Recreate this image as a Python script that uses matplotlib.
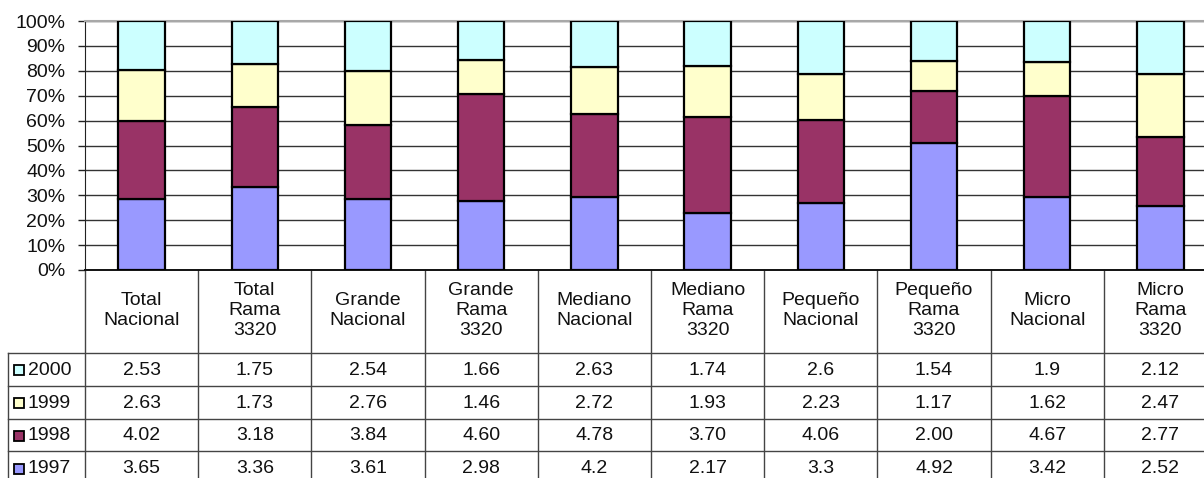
import numpy as np
import matplotlib
matplotlib.use('Agg')
import matplotlib.pyplot as plt
from matplotlib.ticker import PercentFormatter
from matplotlib.transforms import blended_transform_factory

plt.rcParams['font.family'] = ['Liberation Sans', 'DejaVu Sans']

categories = ['Total\nNacional', 'Total\nRama\n3320', 'Grande\nNacional', 'Grande\nRama\n3320',
              'Mediano\nNacional', 'Mediano\nRama\n3320', 'Pequeño\nNacional', 'Pequeño\nRama\n3320',
              'Micro\nNacional', 'Micro\nRama\n3320']
years = ['1997', '1998', '1999', '2000']
v1997 = [3.65, 3.36, 3.61, 2.98, 4.2, 2.17, 3.3, 4.92, 3.42, 2.52]
v1998 = [4.02, 3.18, 3.84, 4.60, 4.78, 3.70, 4.06, 2.00, 4.67, 2.77]
v1999 = [2.63, 1.73, 2.76, 1.46, 2.72, 1.93, 2.23, 1.17, 1.62, 2.47]
v2000 = [2.53, 1.75, 2.54, 1.66, 2.63, 1.74, 2.6, 1.54, 1.9, 2.12]
labels1997 = ['3.65', '3.36', '3.61', '2.98', '4.2', '2.17', '3.3', '4.92', '3.42', '2.52']
labels1998 = ['4.02', '3.18', '3.84', '4.60', '4.78', '3.70', '4.06', '2.00', '4.67', '2.77']
labels1999 = ['2.63', '1.73', '2.76', '1.46', '2.72', '1.93', '2.23', '1.17', '1.62', '2.47']
labels2000 = ['2.53', '1.75', '2.54', '1.66', '2.63', '1.74', '2.6', '1.54', '1.9', '2.12']
colors = ['#9999FF', '#993366', '#FFFFCC', '#CCFFFF']

series = np.array([v1997, v1998, v1999, v2000])
shares = series / series.sum(axis=0)

W, H = 1204, 478
FS = 14
fig = plt.figure(figsize=(W / 100, H / 100), dpi=100)
# plot area in pixels: left 85, top 21, bottom 270, category width ~113.2
ax = fig.add_axes([85 / W, 1 - 270 / H, 1132 / W, 249 / H])

x = np.arange(len(categories))
bottom = np.zeros(len(categories))
for s, c in zip(shares, colors):
    ax.bar(x, s, 0.41, bottom=bottom, color=c, edgecolor='black', linewidth=1.6, zorder=3)
    bottom += s

ax.set_xlim(-0.5, len(categories) - 0.5)
ax.set_ylim(0, 1)
ax.set_yticks(np.arange(0, 1.01, 0.1))
ax.yaxis.set_major_formatter(PercentFormatter(1.0, decimals=0))
ax.tick_params(axis='y', direction='out', length=5, width=1, color='#222222',
               labelsize=FS, pad=9, labelcolor='#111111')
ax.tick_params(axis='x', length=0, labelbottom=False)
ax.grid(axis='y', color='#333333', linewidth=1, zorder=0)
ax.set_axisbelow(True)
ax.spines['top'].set_color('#a8a8a8')
ax.spines['top'].set_linewidth(1.5)
ax.spines['right'].set_visible(False)
ax.spines['left'].set_color('#222222')
ax.spines['bottom'].set_color('#111111')
ax.spines['bottom'].set_linewidth(1.4)

# data table below the plot
tr = blended_transform_factory(ax.transData, ax.transAxes)
unit = 1132 / 10  # px per category


def ay(py):
    return (270 - py) / 249


def dx(px):
    return -0.5 + (px - 85) / unit


line_kw = dict(color='#444444', linewidth=1, transform=tr, clip_on=False)
header_bottom = 353
row_h = 32.8
table_bottom = 478
for i in range(len(categories) + 1):
    ax.plot([i - 0.5, i - 0.5], [ay(270), ay(table_bottom + 5)], **line_kw)
ax.plot([dx(8), dx(8)], [ay(header_bottom), ay(table_bottom + 5)], **line_kw)
for r in range(4):
    yy = ay(header_bottom + r * row_h)
    ax.plot([dx(8), len(categories)], [yy, yy], **line_kw)

for i, cat in enumerate(categories):
    ax.text(i, ay((270 + header_bottom) / 2 - 1), cat, transform=tr, ha='center', va='center',
            fontsize=FS, linespacing=1.22, color='#111111', clip_on=False)

row_order = [('2000', labels2000, colors[3]), ('1999', labels1999, colors[2]),
             ('1998', labels1998, colors[1]), ('1997', labels1997, colors[0])]
for r, (yr, labs, c) in enumerate(row_order):
    yc = ay(header_bottom + (r + 0.5) * row_h + 1)
    ax.plot([dx(19.5)], [yc], marker='s', markersize=7.5, markerfacecolor=c,
            markeredgecolor='black', markeredgewidth=1.3, transform=tr, clip_on=False)
    ax.text(dx(28), yc, yr, transform=tr, ha='left', va='center', fontsize=FS,
            color='#111111', clip_on=False)
    for i, lab in enumerate(labs):
        ax.text(i, yc, lab, transform=tr, ha='center', va='center', fontsize=FS,
                color='#111111', clip_on=False)

fig.savefig('out.png', dpi=100)
